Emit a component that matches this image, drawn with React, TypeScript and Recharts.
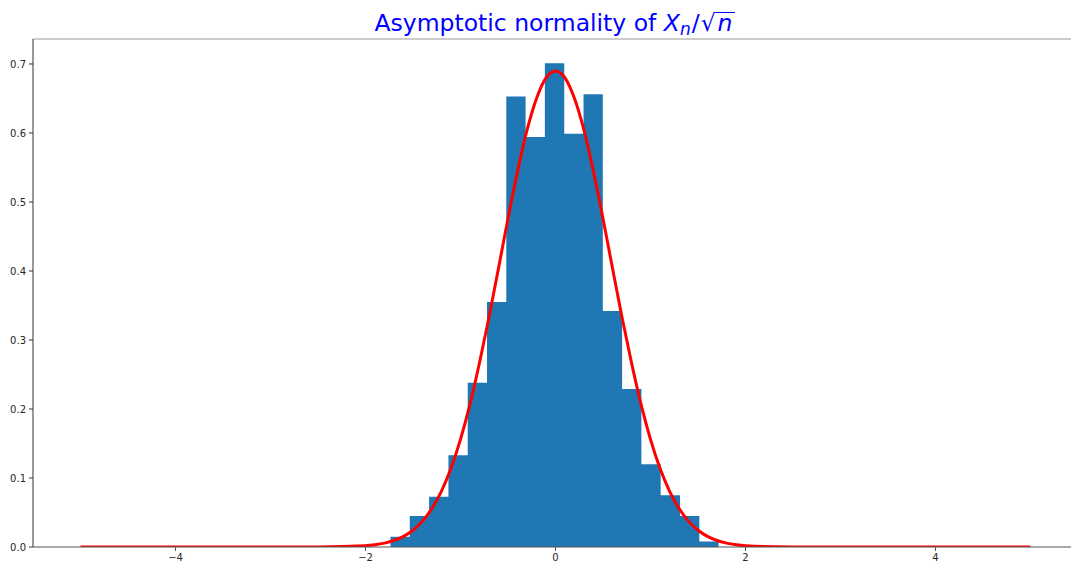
import React from "react";
import { ComposedChart, Area, Line, XAxis, YAxis, ReferenceLine } from "recharts";

// Histogram bin edges (data units) and bar heights (density)
const binEdges = [
  -1.737, -1.534, -1.331, -1.127, -0.924, -0.721, -0.518, -0.315, -0.112,
  0.092, 0.295, 0.498, 0.701, 0.904, 1.107, 1.311, 1.514, 1.717,
];
const binHeights = [
  0.015, 0.045, 0.073, 0.133, 0.238, 0.355, 0.653, 0.594, 0.701, 0.599,
  0.656, 0.342, 0.229, 0.12, 0.075, 0.045, 0.008,
];

// Fitted normal density curve
const curveX = [
  -5, -3, -2.5, -2.0, -1.9, -1.8, -1.7, -1.6, -1.5, -1.4, -1.3, -1.2, -1.1, -1.0,
  -0.9, -0.8, -0.7, -0.6, -0.5, -0.4, -0.3, -0.2, -0.1, 0, 0.1, 0.2, 0.3, 0.4,
  0.5, 0.6, 0.7, 0.8, 0.9, 1.0, 1.1, 1.2, 1.3, 1.4, 1.5, 1.6, 1.7, 1.8, 1.9,
  2.0, 2.5, 3, 5,
];
const curveY = [
  0, 0, 0.0001, 0.0018, 0.0032, 0.0056, 0.0094, 0.0154, 0.0243, 0.0375, 0.056,
  0.081, 0.114, 0.156, 0.207, 0.267, 0.333, 0.404, 0.476, 0.544, 0.604, 0.65,
  0.68, 0.69, 0.68, 0.65, 0.604, 0.544, 0.476, 0.404, 0.333, 0.267, 0.207,
  0.156, 0.114, 0.081, 0.056, 0.0375, 0.0243, 0.0154, 0.0094, 0.0056, 0.0032,
  0.0018, 0.0001, 0, 0,
];

const xTicks = [-4, -2, 0, 2, 4];
const yTicks = [0, 0.1, 0.2, 0.3, 0.4, 0.5, 0.6, 0.7];
const X_DOMAIN: [number, number] = [-5.5, 5.5];
const Y_MAX = 0.7362;

const histData = binEdges.map((e, i) => ({
  x: e,
  y: binHeights[Math.min(i, binHeights.length - 1)],
}));
const curveData = curveX.map((x, i) => ({ x, y: curveY[i] }));

const FONT = "'DejaVu Sans', sans-serif";

const fmtX = (v: number) => (v < 0 ? "\u2212" + Math.abs(v) : String(v));
const fmtY = (v: number) => v.toFixed(1);

export default function App() {
  return (
    <div
      style={{
        position: "absolute",
        left: 0,
        top: 0,
        width: 1071,
        height: 563,
        overflow: "hidden",
        background: "#fff",
      }}
    >
      <div
        style={{
          position: "absolute",
          left: 0,
          top: 12,
          width: 1109,
          textAlign: "center",
          fontFamily: FONT,
          fontSize: 23.5,
          lineHeight: 1,
          color: "blue",
          whiteSpace: "nowrap",
        }}
      >
        Asymptotic normality of <i>X</i>
        <i style={{ fontSize: 17, position: "relative", top: 4 }}>n</i>
        <span style={{ marginLeft: 1 }}>/</span>
        <span style={{ marginLeft: 1 }}>√</span>
        <i
          style={{
            display: "inline-block",
            lineHeight: 0.88,
            borderTop: "1px solid blue",
            paddingLeft: 2,
            paddingRight: 2,
          }}
        >
          n
        </i>
      </div>
      <ComposedChart
        width={1083}
        height={563}
        margin={{ top: 39, right: 5, left: 0, bottom: 0 }}
      >
        <XAxis
          type="number"
          dataKey="x"
          domain={X_DOMAIN}
          ticks={xTicks}
          tickFormatter={fmtX}
          allowDataOverflow
          height={16}
          tickSize={4}
          tickMargin={3}
          stroke="#555"
          tick={{ fill: "#262626", fontSize: 10, fontFamily: FONT }}
          tickLine={{ stroke: "#555" }}
        />
        <YAxis
          type="number"
          dataKey="y"
          domain={[0, Y_MAX]}
          ticks={yTicks}
          tickFormatter={fmtY}
          allowDataOverflow
          width={33}
          tickSize={4}
          tickMargin={3}
          stroke="#333"
          tick={{ fill: "#262626", fontSize: 10, fontFamily: FONT }}
          tickLine={{ stroke: "#333" }}
        />
        <ReferenceLine y={Y_MAX} stroke="#999" strokeWidth={1} ifOverflow="extendDomain" />
        <Area
          data={histData}
          dataKey="y"
          type="stepAfter"
          fill="#1f77b4"
          fillOpacity={1}
          stroke="none"
          baseValue={0}
          isAnimationActive={false}
          dot={false}
          activeDot={false}
        />
        <Line
          data={curveData}
          dataKey="y"
          type="monotone"
          stroke="#ff0000"
          strokeWidth={3}
          dot={false}
          activeDot={false}
          isAnimationActive={false}
        />
      </ComposedChart>
    </div>
  );
}
